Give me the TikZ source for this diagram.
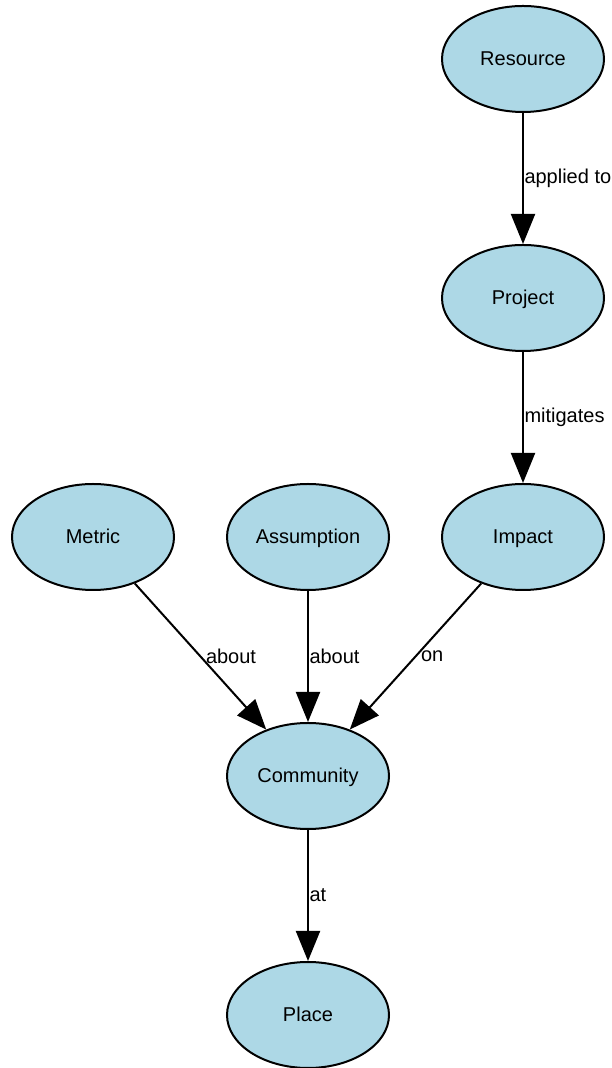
\documentclass[tikz,border=0pt]{standalone}
\usepackage{fontspec}
\setmainfont{Liberation Sans}
\usetikzlibrary{positioning,arrows.meta,shapes.geometric}
\definecolor{entityblue}{HTML}{ADD8E6}
\begin{document}
\begin{tikzpicture}[
    x=1pt, y=1pt,
    font=\fontsize{20}{24}\selectfont,
    entity/.style={ellipse, draw, line width=2pt, fill=entityblue,
        minimum width=162pt, minimum height=106pt, inner sep=0pt,
        text height=18pt, text depth=4pt},
    arrowstyle/.style={draw, line width=2pt, -{Triangle[length=30pt,width=24pt]}},
    edgelabel/.style={midway, anchor=west, inner sep=0.5pt},
    node distance=131pt and 51pt
]
\useasboundingbox (0,0) rectangle (611,1068);
\node (Resource) [entity] at (523,1009) {Resource};
\node (Project) [entity, below=of Resource] {Project};
\node (Impact) [entity, below=of Project] {Impact};
\node (Assumption) [entity, left=of Impact] {Assumption};
\node (Metric) [entity, left=of Assumption] {Metric};
\node (Community) [entity, below=of Assumption] {Community};
\node (Place) [entity, below=of Community] {Place};

\draw [arrowstyle] (Resource) -- (Project) node [edgelabel] {applied to};
\draw [arrowstyle] (Project) -- (Impact) node [edgelabel] {mitigates};
\draw [arrowstyle] (Metric) -- (Community) node [edgelabel, xshift=4pt] {about};
\draw [arrowstyle] (Assumption) -- (Community) node [edgelabel] {about};
\draw [arrowstyle] (Impact) -- (Community) node [edgelabel, xshift=4pt] {on};
\draw [arrowstyle] (Community) -- (Place) node [edgelabel] {at};
\end{tikzpicture}
\end{document}
